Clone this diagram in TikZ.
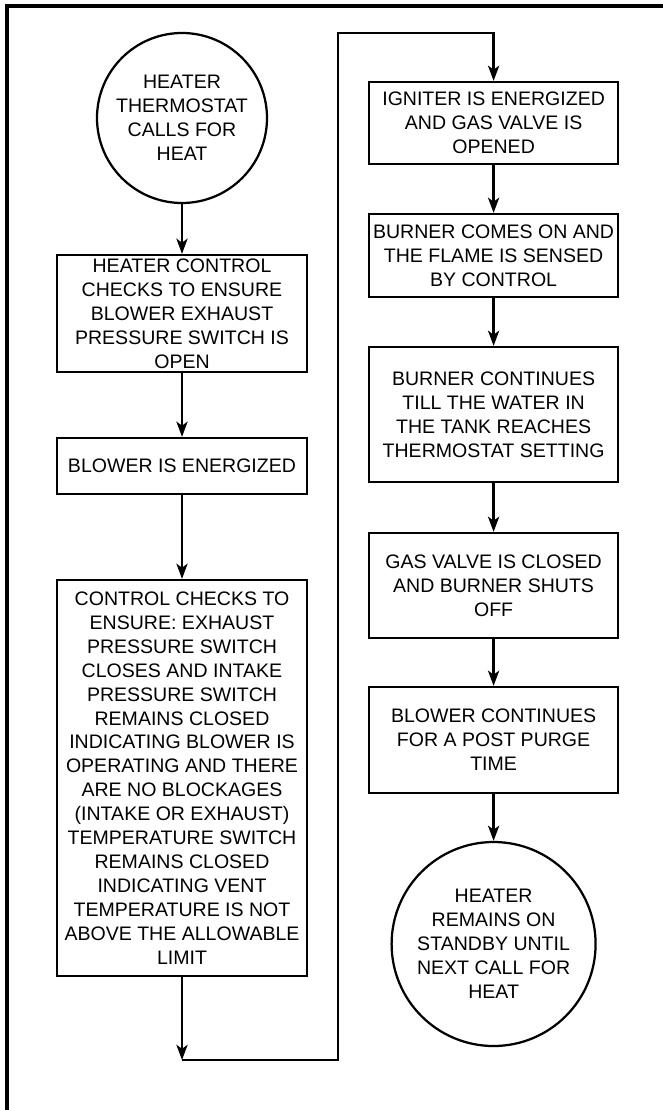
\documentclass[tikz,border=0pt]{standalone}
\usepackage{fontspec}
\setmainfont{Liberation Sans}
\usetikzlibrary{arrows.meta}

\begin{document}
\begin{tikzpicture}[
    font=\fontsize{13.9}{17}\selectfont,
    stepbox/.style={draw, line width=1.6pt, align=center, inner sep=0pt, minimum width=6.25cm},
    endcircle/.style={draw, circle, line width=1.6pt, align=center, inner sep=0pt},
    flow/.style={line width=1.6pt, -{Stealth[length=0.38cm, width=0.28cm, inset=0.1cm]}}
]
    \useasboundingbox (0,0) rectangle (16.575,-27.75);
    \draw[line width=2.4pt] (0.175,-27.9) -- (0.175,-0.15) -- (16.7,-0.15);

    \node[endcircle, minimum size=4.25cm] (start) at (4.55,-2.95) {HEATER\\THERMOSTAT\\CALLS FOR\\HEAT};
    \node[stepbox, minimum height=2.925cm] (check) at (4.55,-7.8375) {HEATER CONTROL\\CHECKS TO ENSURE\\BLOWER EXHAUST\\PRESSURE SWITCH IS\\OPEN};
    \node[stepbox, minimum height=1.4cm] (blower) at (4.55,-11.65) {BLOWER IS ENERGIZED};
    \node[stepbox, minimum height=9.9cm] (ensure) at (4.55,-19.45) {CONTROL CHECKS TO\\ENSURE: EXHAUST\\PRESSURE SWITCH\\CLOSES AND INTAKE\\PRESSURE SWITCH\\REMAINS CLOSED\\INDICATING BLOWER IS\\OPERATING AND THERE\\ARE NO BLOCKAGES\\(INTAKE OR EXHAUST)\\TEMPERATURE SWITCH\\REMAINS CLOSED\\INDICATING VENT\\TEMPERATURE IS NOT\\ABOVE THE ALLOWABLE\\LIMIT};

    \node[stepbox, minimum width=6.225cm, minimum height=2.05cm] (igniter) at (12.34,-3.075) {IGNITER IS ENERGIZED\\AND GAS VALVE IS\\OPENED};
    \node[stepbox, minimum width=6.225cm, minimum height=2.075cm] (flame) at (12.34,-6.3875) {BURNER COMES ON AND\\THE FLAME IS SENSED\\BY CONTROL};
    \node[stepbox, minimum width=6.225cm, minimum height=3.375cm] (burn) at (12.34,-10.3625) {BURNER CONTINUES\\TILL THE WATER IN\\THE TANK REACHES\\THERMOSTAT SETTING};
    \node[stepbox, minimum width=6.225cm, minimum height=2.625cm] (shutoff) at (12.34,-14.6375) {GAS VALVE IS CLOSED\\AND BURNER SHUTS\\OFF};
    \node[stepbox, minimum width=6.225cm, minimum height=2.65cm] (purge) at (12.34,-18.5) {BLOWER CONTINUES\\FOR A POST PURGE\\TIME};
    \node[endcircle, minimum size=5.1cm] (standby) at (12.34,-23.6) {HEATER\\REMAINS ON\\STANDBY UNTIL\\NEXT CALL FOR\\HEAT};

    \coordinate (loopA) at (4.55,-26.5);
    \coordinate (loopB) at (8.45,-26.5);
    \coordinate (loopC) at (8.45,-0.825);
    \coordinate (loopD) at (12.34,-0.825);

    \draw[flow] (start) -- (check);
    \draw[flow] (check) -- (blower);
    \draw[flow] (blower) -- (ensure);
    \draw[flow] (ensure) -- (loopA);
    \draw[flow] (loopA) -- (loopB) -- (loopC) -- (loopD) -- (igniter);
    \draw[flow] (igniter) -- (flame);
    \draw[flow] (flame) -- (burn);
    \draw[flow] (burn) -- (shutoff);
    \draw[flow] (shutoff) -- (purge);
    \draw[flow] (purge) -- (standby);
\end{tikzpicture}
\end{document}
